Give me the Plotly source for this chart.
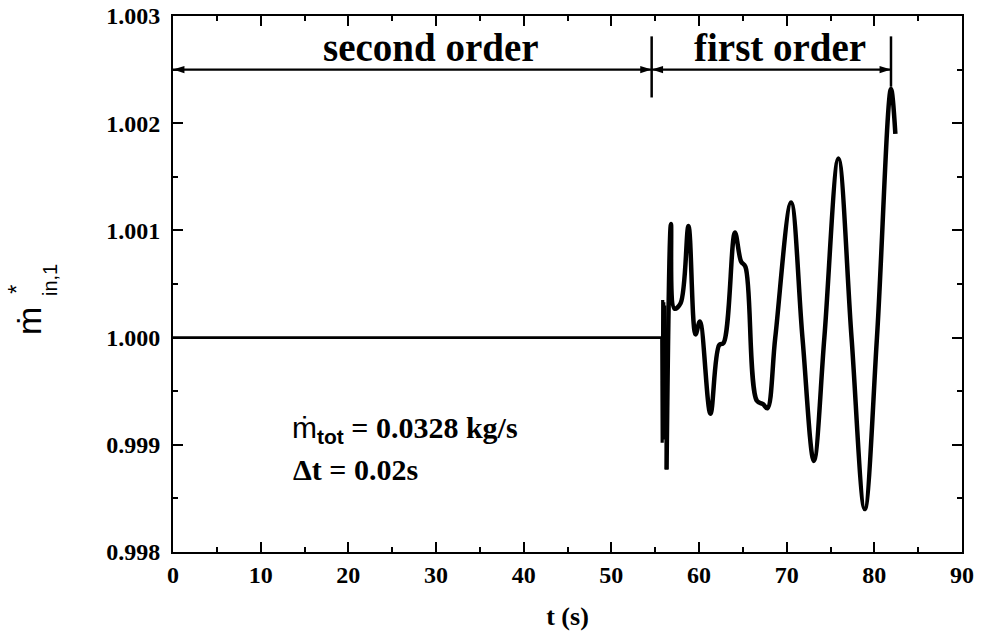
import plotly.graph_objects as go

# --- data -------------------------------------------------------------
# steady part computed with the second-order scheme
t_flat = [0.0, 55.75]
m_flat = [1.0000, 1.0000]

# switch-over burst right after the scheme change
t_burst = [55.75, 55.80, 55.86, 55.92, 55.98, 56.04, 56.10, 56.30]
m_burst = [1.00000, 0.99902, 1.00035, 0.99905, 1.00033, 0.99908, 1.00030, 0.99877]

# growing oscillation with the first-order scheme
t_osc = [56.30, 56.80, 57.20, 57.90, 58.80, 59.60, 60.10, 61.30, 62.30, 62.80,
         64.10, 64.80, 65.30, 66.60, 67.30, 67.80, 68.70, 70.50, 71.80, 73.10,
         74.30, 75.90, 77.40, 78.90, 80.30, 81.90, 82.40]
m_osc = [0.99877, 1.00106, 1.00027, 1.00032, 1.00104, 1.00003, 1.00015, 0.99929, 0.99993, 0.99995,
         1.00098, 1.00071, 1.00066, 0.99941, 0.99938, 0.99934, 1.00000, 1.00126, 1.00000, 0.99885,
         1.00000, 1.00167, 1.00000, 0.99840, 1.00000, 1.00232, 1.00190]

# scheme regions marked above the curve
t_switch = 54.6
t_end = 81.9
region_labels = ["second order", "first order"]
region_label_t = [29.4, 69.2]

x_ticks = list(range(0, 91, 10))
y_ticks = [0.998, 0.999, 1.000, 1.001, 1.002, 1.003]

# --- layout geometry --------------------------------------------------
W, H = 982, 639
ML, MR, MT, MB = 173, 20, 16, 87
PW, PH = W - ML - MR, H - MT - MB


def px_x(px):
    return (px - ML) / PW


def px_y(py):
    return (H - MB - py) / PH


SERIF = "Liberation Serif"
SANS = "Liberation Sans"

fig = go.Figure()
fig.add_trace(go.Scatter(x=t_flat, y=m_flat, mode="lines",
                         line=dict(color="black", width=2.6), showlegend=False))
fig.add_trace(go.Scatter(x=t_burst, y=m_burst, mode="lines",
                         line=dict(color="black", width=3.2), showlegend=False))
fig.add_trace(go.Scatter(x=t_osc, y=m_osc, mode="lines",
                         line=dict(color="black", width=4.5, shape="spline", smoothing=1.0),
                         showlegend=False))

# region markers: vertical bars and double-headed dimension arrows
y_arrow = 1.0025
for tx, y0, y1 in [(t_switch, 1.00224, 1.00281), (t_end, 1.00234, 1.00281)]:
    fig.add_shape(type="line", x0=tx, x1=tx, y0=y0, y1=y1,
                  line=dict(color="black", width=2.5))

for a, b in [(0.0, t_switch), (t_switch, t_end)]:
    fig.add_trace(go.Scatter(
        x=[a, b], y=[y_arrow, y_arrow], mode="lines+markers",
        line=dict(color="black", width=2.2),
        marker=dict(symbol="arrow", size=12, angle=[270, 90], color="black",
                    line=dict(width=0)),
        showlegend=False, hoverinfo="skip"))

for lbl, tx in zip(region_labels, region_label_t):
    fig.add_annotation(x=tx, y=1.00271, text=lbl, showarrow=False,
                       font=dict(family=SERIF, size=39, color="black", weight="bold"))

# operating conditions (two stacked lines)
fig.add_annotation(
    xref="paper", yref="paper", x=px_x(290), y=px_y(450),
    xanchor="left", yanchor="bottom", showarrow=False,
    text=(f'<span style="font-family:{SANS};font-weight:normal">ṁ</span>'
          f'<sub><span style="font-family:{SANS}">tot</span></sub> = 0.0328 kg/s'),
    font=dict(family=SERIF, size=30, color="black", weight="bold"))
fig.add_annotation(
    xref="paper", yref="paper", x=px_x(291), y=px_y(451),
    xanchor="left", yanchor="top", showarrow=False,
    text="Δt = 0.02s",
    font=dict(family=SERIF, size=30, color="black", weight="bold"))

# y-axis title: m-dot with stacked star and "in,1"
fig.add_annotation(xref="paper", yref="paper", x=px_x(29), y=px_y(321),
                   xanchor="center", yanchor="middle",
                   text="ṁ", textangle=-90, showarrow=False,
                   font=dict(family=SANS, size=34, color="black"))
fig.add_annotation(xref="paper", yref="paper", x=px_x(16), y=px_y(290),
                   xanchor="center", yanchor="middle",
                   text="*", textangle=-90, showarrow=False,
                   font=dict(family=SANS, size=24, color="black"))
fig.add_annotation(xref="paper", yref="paper", x=px_x(50), y=px_y(280),
                   xanchor="center", yanchor="middle",
                   text="in,1", textangle=-90, showarrow=False,
                   font=dict(family=SANS, size=20, color="black"))

axis_common = dict(
    showline=True, linecolor="black", linewidth=2, mirror="ticks",
    ticks="inside", ticklen=10, tickwidth=2, tickcolor="black",
    showgrid=False, zeroline=False,
    tickfont=dict(family=SERIF, size=24, color="black", weight="bold"),
)

fig.update_xaxes(range=[0, 90], tickvals=x_ticks,
                 minor=dict(dtick=5, tick0=0, ticks="inside", ticklen=5, tickwidth=2,
                            tickcolor="black", showgrid=False),
                 title=dict(text="t (s)", standoff=20,
                            font=dict(family=SERIF, size=26, color="black", weight="bold")),
                 ticklabelstandoff=0,
                 **axis_common)
fig.update_yaxes(range=[0.998, 1.003], tickvals=y_ticks, tickformat=".3f",
                 minor=dict(dtick=0.0005, tick0=0.998, ticks="inside", ticklen=5, tickwidth=2,
                            tickcolor="black", showgrid=False),
                 ticklabelstandoff=6,
                 **axis_common)

fig.update_layout(width=W, height=H,
                  margin=dict(l=ML, r=MR, t=MT, b=MB, autoexpand=False),
                  plot_bgcolor="white", paper_bgcolor="white")

fig.write_html("out.html")
